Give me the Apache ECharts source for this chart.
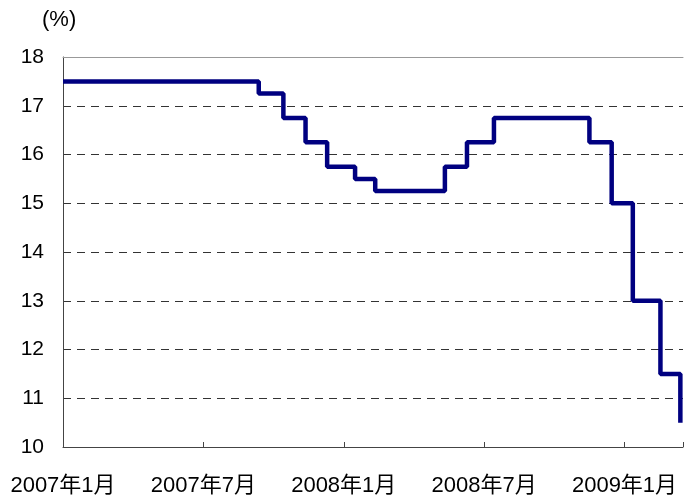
<!DOCTYPE html>
<html>
<head>
<meta charset="utf-8">
<script src="https://cdn.jsdelivr.net/npm/echarts@6/dist/echarts.min.js"></script>
<style>
html,body{margin:0;padding:0;background:#fff;}
#chart{width:686px;height:500px;}
</style>
</head>
<body>
<div id="chart"></div>
<script>
// Step dates (rate effective from this date) and policy rate values (%)
var stepDates = ['2007-01-01','2007-09-12','2007-10-14','2007-11-12','2007-12-10','2008-01-16','2008-02-11','2008-05-11','2008-06-09','2008-07-14','2008-11-16','2008-12-15','2009-01-12','2009-02-16','2009-03-13'];
var rates = [17.5,17.25,16.75,16.25,15.75,15.5,15.25,15.75,16.25,16.75,16.25,15.0,13.0,11.5,10.5];
var xTickLabels = ['2007年1月','2007年7月','2008年1月','2008年7月','2009年1月'];
var yTickLabels = ['10','11','12','13','14','15','16','17','18'];

function monthIndex(s){
  var p = s.split('-');
  var y = +p[0], m = +p[1], d = +p[2];
  var dim = new Date(y, m, 0).getDate();
  return (y - 2007) * 12 + (m - 1) + (d - 1) / dim;
}
var seriesData = stepDates.map(function(s, i){ return [monthIndex(s), rates[i]]; });

var font = '"Liberation Sans", Arial, "Noto Sans CJK JP", sans-serif';
var chart = echarts.init(document.getElementById('chart'), null, {renderer:'canvas'});
chart.setOption({
  animation: false,
  backgroundColor: '#fff',
  title: {
    text: '(%)', left: 42, top: 9, padding: 0,
    textStyle: {fontSize: 22, fontWeight: 'normal', color: '#000', fontFamily: font}
  },
  grid: {left: 63, right: 0, top: 57, bottom: 53},
  xAxis: [{
    type: 'value', min: 0, max: 26.5, interval: 6,
    axisLine: {show: true, lineStyle: {color: '#444', width: 1}},
    axisTick: {show: true, inside: true, length: 5, lineStyle: {color: '#444'}},
    splitLine: {show: false},
    axisLabel: {
      margin: 28, fontSize: 22, color: '#000', fontFamily: font,
      formatter: function(v){ var k = Math.round(v / 6); return (Math.abs(v - k*6) < 1e-6 && xTickLabels[k]) ? xTickLabels[k] : ''; }
    }
  }, {
    type: 'value', min: 0, max: 26.5, position: 'top',
    axisLine: {show: true, lineStyle: {color: '#999', width: 1}},
    axisTick: {show: false}, axisLabel: {show: false}, splitLine: {show: false}
  }],
  yAxis: {
    type: 'value', min: 10, max: 18, interval: 1,
    axisLine: {show: true, lineStyle: {color: '#444', width: 1}},
    axisTick: {show: false},
    splitLine: {show: true, lineStyle: {color: '#333', width: 1, type: [8, 6]}},
    axisLabel: {
      margin: 19, fontSize: 21, color: '#000', fontFamily: font,
      formatter: function(v){ return yTickLabels[Math.round(v - 10)]; }
    }
  },
  series: [{
    type: 'line', step: 'end', xAxisIndex: 0, data: seriesData,
    showSymbol: false, symbol: 'none', clip: true,
    lineStyle: {color: '#000080', width: 4.5}
  }]
});
</script>
</body>
</html>
